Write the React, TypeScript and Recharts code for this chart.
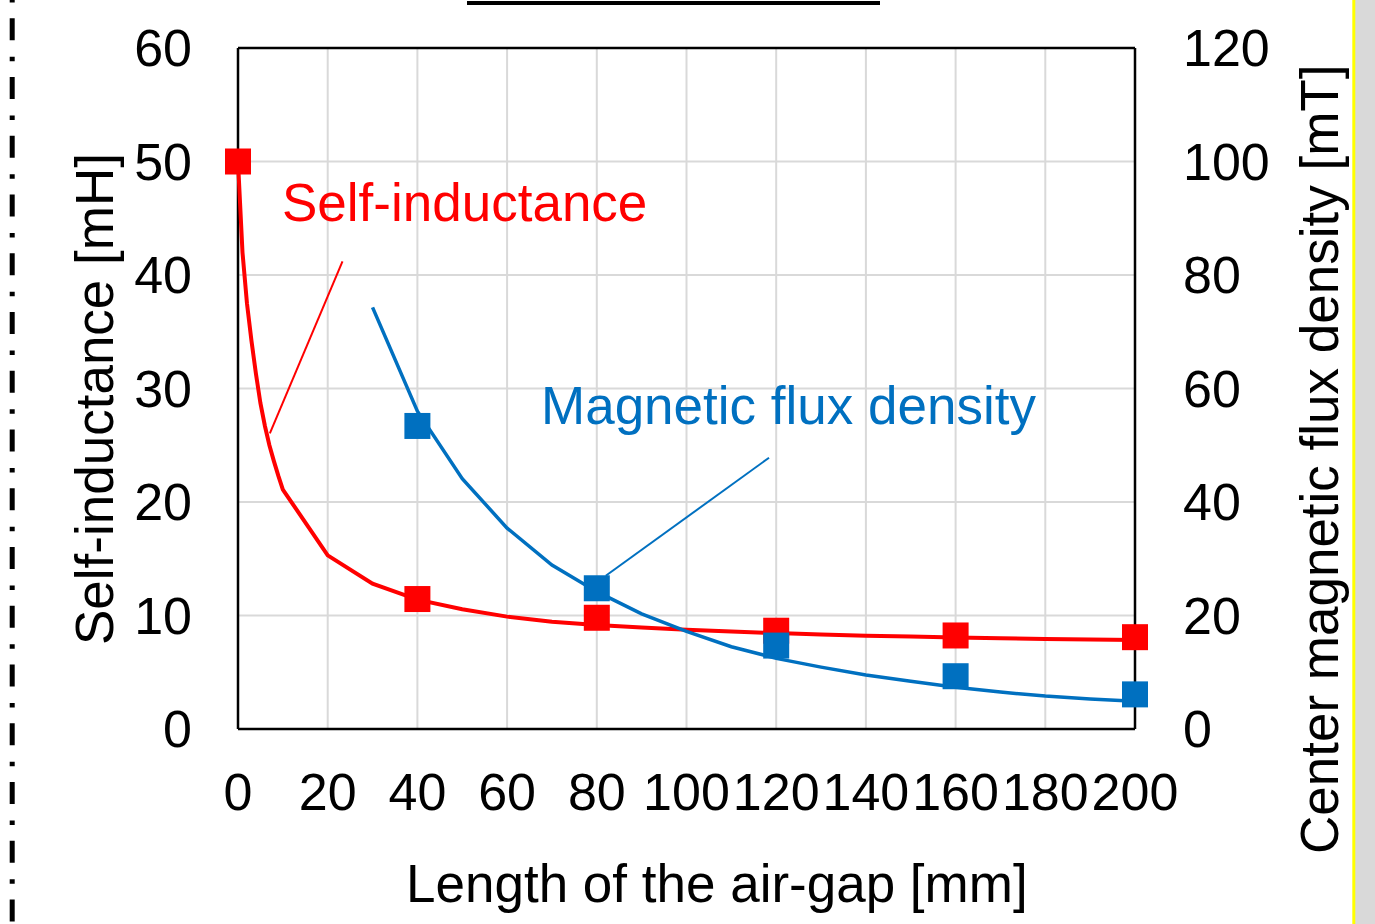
import {
  ScatterChart,
  Scatter,
  XAxis,
  YAxis,
  CartesianGrid,
  ReferenceLine,
} from "recharts";

// x positions (air-gap, mm) and values
const inductanceCurveGap = [0, 1, 2, 3, 4, 5, 6, 7, 8, 9, 10, 20, 30, 40, 50, 60, 70, 80, 90, 100, 110, 120, 130, 140, 150, 160, 170, 180, 190, 200];
const inductanceCurve = [50, 42, 37.5, 34.2, 31.3, 28.7, 26.7, 25, 23.6, 22.3, 21.1, 15.3, 12.8, 11.4, 10.55, 9.9, 9.45, 9.16, 8.95, 8.75, 8.6, 8.45, 8.32, 8.22, 8.14, 8.07, 8.0, 7.94, 7.89, 7.84];
const inductanceMeasuredGap = [0, 40, 80, 120, 160, 200];
const inductanceMeasured = [50, 11.45, 9.8, 8.66, 8.24, 8.09];

const fluxCurveGap = [30, 40, 50, 60, 70, 80, 90, 100, 110, 120, 130, 140, 150, 160, 170, 180, 190, 200];
const fluxCurve = [74.3, 56, 44.1, 35.4, 28.9, 24.2, 20.3, 17.2, 14.5, 12.45, 10.9, 9.5, 8.4, 7.35, 6.5, 5.8, 5.3, 4.9];
const fluxMeasuredGap = [40, 80, 120, 160, 200];
const fluxMeasured = [53.4, 24.8, 14.7, 9.3, 6.1];

const xTicks = [0, 20, 40, 60, 80, 100, 120, 140, 160, 180, 200];
const leftTicks = [0, 10, 20, 30, 40, 50, 60];
const rightTicks = [0, 20, 40, 60, 80, 100, 120];

const RED = "#ff0000";
const BLUE = "#0070c0";
const FONT = "'Liberation Sans', Arial, sans-serif";

const toPoints = (xs: number[], ys: number[]) => xs.map((x, i) => ({ x, y: ys[i] }));

const inductanceLine = toPoints(inductanceCurveGap, inductanceCurve);
const inductancePts = toPoints(inductanceMeasuredGap, inductanceMeasured);
const fluxLine = toPoints(fluxCurveGap, fluxCurve);
const fluxPts = toPoints(fluxMeasuredGap, fluxMeasured);

const noDot = () => <g />;
const square = (color: string) => (props: any) => (
  <rect x={props.cx - 13} y={props.cy - 13} width={26} height={26} fill={color} />
);

const tickStyle = { fontSize: 52, fill: "#000", fontFamily: FONT };

export default function App() {
  return (
    <div style={{ position: "absolute", left: 0, top: 0, width: 1375, height: 924, background: "#fff" }}>
      <ScatterChart
        width={1375}
        height={924}
        margin={{ top: 48, right: 40, left: 38, bottom: 95 }}
      >
        <CartesianGrid
          yAxisId="left"
          stroke="#d9d9d9"
          strokeWidth={2}
          horizontalValues={leftTicks}
          verticalValues={xTicks}
        />
        <XAxis
          type="number"
          dataKey="x"
          domain={[0, 200]}
          ticks={xTicks}
          interval={0}
          height={100}
          tickSize={0}
          tickMargin={44}
          tick={tickStyle}
          axisLine={{ stroke: "#000", strokeWidth: 2.5 }}
        />
        <YAxis
          yAxisId="left"
          type="number"
          dataKey="y"
          domain={[0, 60]}
          ticks={leftTicks}
          interval={0}
          width={200}
          tickSize={0}
          tickMargin={46}
          tick={tickStyle}
          axisLine={{ stroke: "#000", strokeWidth: 2.5 }}
        />
        <YAxis
          yAxisId="right"
          orientation="right"
          type="number"
          dataKey="y"
          domain={[0, 120]}
          ticks={rightTicks}
          interval={0}
          width={200}
          tickSize={0}
          tickMargin={48}
          tick={tickStyle}
          axisLine={{ stroke: "#000", strokeWidth: 2.5 }}
        />
        <ReferenceLine yAxisId="left" y={60} stroke="#000" strokeWidth={2.5} />
        <ReferenceLine
          yAxisId="left"
          segment={[{ x: 7.1, y: 26.05 }, { x: 23.3, y: 41.2 }]}
          stroke={RED}
          strokeWidth={2}
        />
        <ReferenceLine
          yAxisId="right"
          segment={[{ x: 82, y: 27 }, { x: 118.4, y: 47.8 }]}
          stroke={BLUE}
          strokeWidth={2}
        />
        <Scatter
          yAxisId="left"
          data={inductanceLine}
          fill={RED}
          line={{ stroke: RED, strokeWidth: 4 }}
          lineType="joint"
          shape={noDot}
          isAnimationActive={false}
        />
        <Scatter
          yAxisId="left"
          data={inductancePts}
          fill={RED}
          shape={square(RED)}
          isAnimationActive={false}
        />
        <Scatter
          yAxisId="right"
          data={fluxLine}
          fill={BLUE}
          line={{ stroke: BLUE, strokeWidth: 3.5 }}
          lineType="joint"
          shape={noDot}
          isAnimationActive={false}
        />
        <Scatter
          yAxisId="right"
          data={fluxPts}
          fill={BLUE}
          shape={square(BLUE)}
          isAnimationActive={false}
        />
      </ScatterChart>
      <svg
        width={1375}
        height={924}
        style={{ position: "absolute", left: 0, top: 0, pointerEvents: "none" }}
        fontFamily={FONT}
      >
        <line x1={12.2} y1={0} x2={12.2} y2={924} stroke="#000" strokeWidth={5} strokeDasharray="22 16.5 4.5 15.75" strokeDashoffset={40.45} />
        <line x1={467} y1={3} x2={880} y2={3} stroke="#000" strokeWidth={4} />
        <rect x={1355} y={0} width={20} height={924} fill="#d9d9d9" />
        <line x1={1353.8} y1={0} x2={1353.8} y2={924} stroke="#ffff00" strokeWidth={3} />
        <text x={282} y={221} fontSize={53} fill={RED}>Self-inductance</text>
        <text x={541} y={424} fontSize={53} fill={BLUE}>Magnetic flux density</text>
        <text x={406} y={902} fontSize={53} fill="#000">Length of the air-gap [mm]</text>
        <text x={113} y={645} fontSize={53} fill="#000" transform="rotate(-90 113 645)">Self-inductance [mH]</text>
        <text x={1338} y={854} fontSize={53} fill="#000" transform="rotate(-90 1338 854)">Center magnetic flux density [mT]</text>
      </svg>
    </div>
  );
}
